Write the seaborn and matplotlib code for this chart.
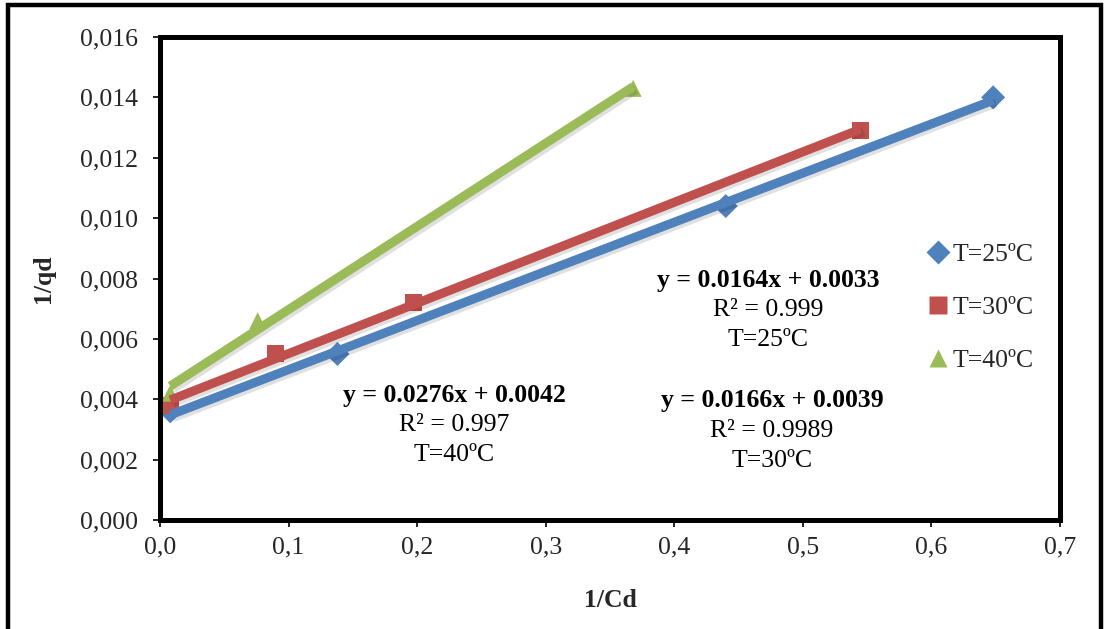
import numpy as np
import pandas as pd
import matplotlib
matplotlib.use("Agg")
import matplotlib.pyplot as plt
import matplotlib.patheffects as pe
from matplotlib.patches import Rectangle
from matplotlib.ticker import FuncFormatter, MultipleLocator
import seaborn as sns

# ---- data ----
series = ["T=25ºC", "T=30ºC", "T=40ºC"]
x_25 = [0.008, 0.138, 0.440, 0.648]
y_25 = [0.0036, 0.0055, 0.0104, 0.0140]
x_30 = [0.008, 0.090, 0.197, 0.545]
y_30 = [0.0038, 0.0055, 0.0072, 0.0129]
x_40 = [0.008, 0.076, 0.368]
y_40 = [0.0042, 0.0066, 0.0143]
colors = ["#4F81BD", "#C0504D", "#9BBB59"]
markers = ["D", "s", "^"]
eq_text = ["y = 0.0164x + 0.0033", "y = 0.0166x + 0.0039", "y = 0.0276x + 0.0042"]
r2_text = ["R² = 0.999", "R² = 0.9989", "R² = 0.997"]
t_text = ["T=25ºC", "T=30ºC", "T=40ºC"]

df = pd.concat([
    pd.DataFrame({"x": x_25, "y": y_25, "s": series[0]}),
    pd.DataFrame({"x": x_30, "y": y_30, "s": series[1]}),
    pd.DataFrame({"x": x_40, "y": y_40, "s": series[2]}),
], ignore_index=True)

sns.set_theme(style="white")
plt.rcParams["font.family"] = ["Liberation Serif", "DejaVu Serif"]
FS = 18.5

fig = plt.figure(figsize=(11.05, 6.29), dpi=100)
ax = fig.add_axes([160/1105, 1-520/629, 900/1105, 483/629])

pal = dict(zip(series, colors))
mk = dict(zip(series, markers))
sns.scatterplot(data=df, x="x", y="y", hue="s", style="s", palette=pal, markers=mk,
                s=150, edgecolor="none", ax=ax, zorder=2, legend=True)

shadow = [pe.SimpleLineShadow(offset=(2, -2), shadow_color="black", alpha=0.12), pe.Normal()]
for name, c in zip(series, colors):
    sub = df[df["s"] == name]
    sns.regplot(data=sub, x="x", y="y", scatter=False, ci=None, truncate=True, ax=ax,
                line_kws=dict(color=c, lw=6.5, zorder=3, path_effects=shadow, solid_capstyle="butt"))

handles, labels = ax.get_legend_handles_labels()
leg = ax.legend(handles[:3], labels[:3], loc="center left", bbox_to_anchor=(0.855, 0.44),
                frameon=False, fontsize=FS, handlelength=0.7, handletextpad=0.2,
                labelspacing=1.15, borderpad=0, borderaxespad=0, markerscale=1.0)

ax.set_xlim(0, 0.7)
ax.set_ylim(0, 0.016)
ax.xaxis.set_major_locator(MultipleLocator(0.1))
ax.yaxis.set_major_locator(MultipleLocator(0.002))
ax.xaxis.set_major_formatter(FuncFormatter(lambda v, p: f"{v:.1f}".replace(".", ",")))
ax.yaxis.set_major_formatter(FuncFormatter(lambda v, p: f"{v:.3f}".replace(".", ",")))
ax.tick_params(axis="both", which="major", direction="out", length=5, width=1.2,
               color="black", labelsize=FS, left=True, bottom=True)
ax.tick_params(axis="y", pad=11)
ax.tick_params(axis="x", pad=7)
for sp in ax.spines.values():
    sp.set_visible(True)
    sp.set_color("black")
    sp.set_linewidth(3.6)

ax.set_xlabel("1/Cd", fontsize=FS, fontweight="bold", labelpad=22)
ax.set_ylabel("1/qd", fontsize=FS, fontweight="bold", labelpad=18)
ax.grid(False)

# equation annotations
pos = [(0.473, 0.00793), (0.476, 0.00395), (0.229, 0.00413)]
for (px, py), e, r, t in zip(pos, eq_text, r2_text, t_text):
    ax.text(px, py, e, ha="center", va="center", fontsize=FS, fontweight="bold", color="black")
    ax.text(px, py - 0.00099, r, ha="center", va="center", fontsize=FS, color="black")
    ax.text(px, py - 0.00198, t, ha="center", va="center", fontsize=FS, color="black")

# outer frame
fig.patches.append(Rectangle((8/1105, -0.05), 1093/1105, 1.05 - 5/629, transform=fig.transFigure,
                             fill=False, edgecolor="black", linewidth=3.2, clip_on=False))

fig.savefig("out.png", dpi=100, facecolor="white")
